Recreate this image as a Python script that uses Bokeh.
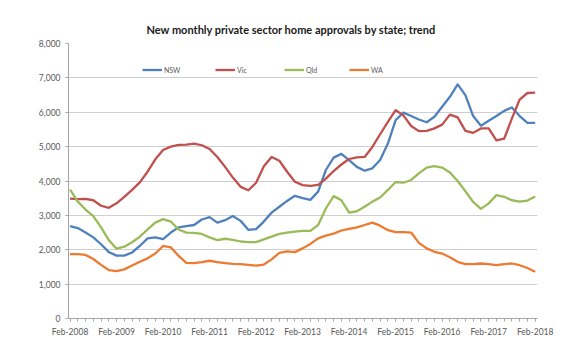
import pandas as pd
from bokeh.plotting import figure
from bokeh.models import Range1d, FixedTicker, NumeralTickFormatter, ColumnDataSource, Legend, LegendItem
from bokeh.embed import file_html
from bokeh.resources import INLINE

# Bi-monthly readings, Feb-2008 .. Feb-2018
dates = pd.date_range("2008-02-01", "2018-02-01", freq="2MS")

nsw = [2690, 2630, 2500, 2360, 2160, 1930, 1830, 1830, 1920, 2110, 2330, 2360, 2310, 2500, 2650, 2690,
       2720, 2880, 2950, 2790, 2860, 2980, 2840, 2580, 2600, 2820, 3080, 3250, 3420, 3570, 3500,
       3450, 3690, 4320, 4680, 4790, 4610, 4410, 4300, 4370, 4610, 5090, 5770, 5990, 5890, 5790, 5710,
       5870, 6160, 6450, 6810, 6500, 5890, 5610, 5750, 5890, 6040, 6140, 5890, 5690, 5690]
vic = [3490, 3470, 3480, 3440, 3280, 3220, 3350, 3540, 3740, 3960, 4270, 4630, 4900, 5000, 5050, 5060,
       5090, 5040, 4930, 4700, 4410, 4100, 3830, 3730, 3950, 4430, 4700, 4590, 4270, 3980, 3880,
       3860, 3890, 4070, 4290, 4480, 4640, 4690, 4700, 4990, 5360, 5720, 6060, 5910, 5600, 5450, 5460,
       5530, 5640, 5930, 5850, 5460, 5400, 5530, 5530, 5180, 5230, 5820, 6370, 6560, 6570]
qld = [3750, 3400, 3170, 2980, 2650, 2280, 2030, 2090, 2220, 2380, 2590, 2790, 2890, 2820, 2590, 2500,
       2490, 2460, 2360, 2280, 2320, 2290, 2240, 2220, 2220, 2300, 2380, 2460, 2500, 2530, 2550,
       2550, 2720, 3200, 3560, 3440, 3080, 3120, 3250, 3400, 3520, 3740, 3970, 3950, 4030, 4220, 4390,
       4430, 4390, 4250, 4000, 3700, 3390, 3190, 3350, 3590, 3540, 3440, 3400, 3430, 3550]
wa = [1870, 1870, 1850, 1730, 1560, 1410, 1380, 1430, 1540, 1650, 1750, 1890, 2110, 2070, 1820, 1620,
      1610, 1640, 1680, 1640, 1610, 1590, 1580, 1560, 1540, 1570, 1720, 1910, 1950, 1930, 2040,
      2170, 2330, 2410, 2470, 2560, 2610, 2650, 2720, 2790, 2700, 2570, 2510, 2510, 2500, 2200, 2040,
      1940, 1890, 1780, 1650, 1580, 1580, 1600, 1580, 1550, 1580, 1600, 1550, 1470, 1360]

series_names = ["NSW", "Vic", "Qld", "WA"]
series_colors = ["#4f81bd", "#c0504d", "#9bbb59", "#ec7a30"]
tick_labels = ["Feb-2008", "Feb-2009", "Feb-2010", "Feb-2011", "Feb-2012", "Feb-2013",
               "Feb-2014", "Feb-2015", "Feb-2016", "Feb-2017", "Feb-2018"]
y_ticks = [0, 1000, 2000, 3000, 4000, 5000, 6000, 7000, 8000]

months = [(d.year - 2008) * 12 + (d.month - 2) for d in dates]
src = ColumnDataSource(dict(m=months, NSW=nsw, Vic=vic, Qld=qld, WA=wa))

p = figure(width=580, height=352, x_range=Range1d(-0.4, 120.6), y_range=Range1d(0, 8000),
           output_backend="svg", toolbar_location=None,
           min_border_left=68, min_border_right=43, min_border_top=43, min_border_bottom=34)
p.outline_line_color = None
p.background_fill_color = "white"
p.border_fill_color = "white"

renderers = []
for name, col in zip(series_names, series_colors):
    r = p.line("m", name, source=src, line_color=col, line_width=2.3, line_join="round")
    renderers.append(r)

# title
p.title.text = "New monthly private sector home approvals by state; trend"
p.title.align = "left"
p.title.offset = 78
p.title.text_font = "Lato"
p.title.text_font_style = "bold"
p.title.text_font_size = "11px"
p.title.text_color = "#1a1a1a"
p.title.standoff = 16

# axes
major = list(range(0, 121, 12))
p.xaxis.ticker = FixedTicker(ticks=major, minor_ticks=list(range(0, 121, 2)))
p.xaxis.major_label_overrides = {m: t for m, t in zip(major, tick_labels)}
p.yaxis.ticker = FixedTicker(ticks=y_ticks)
p.yaxis.formatter = NumeralTickFormatter(format="0,0")
for ax in (p.xaxis[0], p.yaxis[0]):
    ax.axis_line_color = "#a6a6a6"
    ax.major_tick_line_color = "#a6a6a6"
    ax.minor_tick_line_color = "#a6a6a6"
    ax.major_tick_in = 0
    ax.major_tick_out = 3
    ax.minor_tick_in = 0
    ax.major_label_text_font = "Lato"
    ax.major_label_text_font_size = "8.5px"
    ax.major_label_text_color = "#595959"
p.xaxis.minor_tick_out = 3
p.yaxis.minor_tick_out = 0
p.xaxis.major_label_standoff = 5
p.yaxis.major_label_standoff = 5

p.xgrid.grid_line_color = None
p.ygrid.grid_line_color = "#cfcfcf"
p.ygrid.grid_line_width = 1.2

legend_x = [74, 147, 216, 281]
for name, r, lx in zip(series_names, renderers, legend_x):
    leg = Legend(items=[LegendItem(label=name, renderers=[r])], location=(lx, 244),
                 orientation="horizontal", border_line_color=None, background_fill_alpha=0,
                 padding=0, margin=0, glyph_width=20, glyph_height=9, label_height=9,
                 label_standoff=2, label_text_font="Lato", label_text_font_size="7px",
                 label_text_color="#595959")
    p.add_layout(leg)

open("out.html", "w").write(file_html(p, INLINE))
